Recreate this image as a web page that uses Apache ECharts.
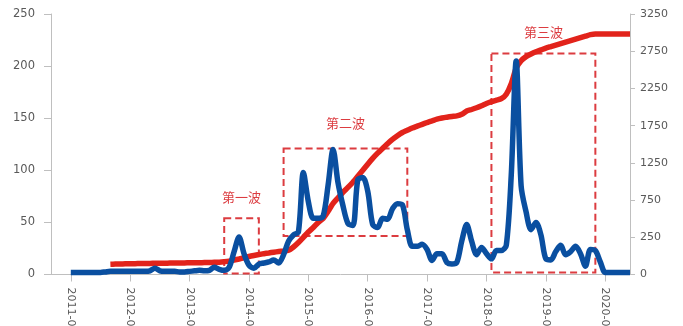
<!DOCTYPE html>
<html>
<head>
<meta charset="utf-8">
<style>
  html, body { margin: 0; padding: 0; background: #ffffff; }
  #chart { width: 683px; height: 326px; }
</style>
<script src="https://cdn.jsdelivr.net/npm/echarts@6/dist/echarts.min.js"></script>
</head>
<body>
<div id="chart"></div>
<script>
// Monthly categories, 2010-09 through 2020-06
const categories = [];
for (let y = 2010; y <= 2020; y++) {
  for (let m = 1; m <= 12; m++) {
    if ((y === 2010 && m < 9) || (y === 2020 && m > 6)) continue;
    categories.push(y + '-' + (m < 10 ? '0' + m : '' + m));
  }
}

// Monthly count (left axis)
const monthlyValues = [
  null, null, null, null,
  2, 2, 2, 2, 2, 2, 2, 2.5,                 // 2011-01 .. 2011-08
  3, 3, 3, 3, 3, 3, 3, 3, 3.5, 6, 3.5, 3,   // 2011-09 .. 2012-08
  3, 3, 2.5, 2.5, 3, 3.5, 4, 3.5, 4, 7, 5, 4, // 2012-09 .. 2013-08
  7, 22, 36, 20, 9, 6, 10, 11, 12, 14, 11, 19, // 2013-09 .. 2014-08
  32, 38, 41, 98, 70, 54, 54, 56, 86, 120, 88, 66, // 2014-09 .. 2015-08
  49, 47, 91, 93, 80, 48, 45, 54, 53, 63, 68, 67, // 2015-09 .. 2016-08
  43, 27, 27, 29, 24, 13.5, 20, 20, 11.5, 10, 11.5, 32, // 2016-09 .. 2017-08
  48, 32, 19, 26, 20, 15, 23, 23, 28, 95, 205, 85, // 2017-09 .. 2018-08
  60, 43, 50, 38, 15, 14, 22, 28, 19, 22, 27, 20, // 2018-09 .. 2019-08
  8, 24, 23, 12, 2, 2, 2, 2, 2, 2            // 2019-09 .. 2020-06
];

// Cumulative total (right axis)
const cumulativeValues = [
  null, null, null, null, null, null, null, null, null, null, null, null,
  138, 140, 141, 143, 144, 146, 147, 148, 149, 150, 151, 152,   // 2011-09 .. 2012-08
  153, 154, 155, 156, 157, 158, 159, 160, 161, 163, 165, 171,   // 2012-09 .. 2013-08
  180, 194, 208, 224, 242, 256, 268, 280, 290, 300, 308, 316,   // 2013-09 .. 2014-08
  326, 370, 430, 500, 570, 632, 700, 755, 850, 955, 1030, 1105, // 2014-09 .. 2015-08
  1170, 1240, 1320, 1400, 1482, 1560, 1630, 1694, 1757, 1815, 1864, 1908, // 2015-09 .. 2016-08
  1938, 1968, 1993, 2018, 2042, 2064, 2087, 2102, 2114, 2124, 2132, 2152, // 2016-09 .. 2017-08
  2197, 2217, 2240, 2267, 2297, 2322, 2342, 2362, 2422, 2562, 2772, 2872, // 2017-09 .. 2018-08
  2927, 2962, 2992, 3017, 3042, 3062, 3082, 3102, 3122, 3142, 3162, 3182, // 2018-09 .. 2019-08
  3202, 3222, 3232, 3232, 3232, 3232, 3232, 3232, 3232, 3232   // 2019-09 .. 2020-06
];

// Right axis tick labels
const rightTickLabels = ['0', '250', '750', '1250', '1750', '2250', '2750', '3250'];

// Highlighted waves: label, start month, end month, low, high on the left axis
const waveNames = ['第一波', '第二波', '第三波'];
const waveStart = ['2013-08', '2014-08', '2018-02'];
const waveEnd = ['2014-03', '2016-09', '2019-11'];
const waveLow = [1, 37, 2];
const waveHigh = [54, 121, 212];
const waveLabelGap = [14, 18, 14];

const axisGray = '#bfbfbf';
const labelGray = '#595959';
const waveRed = '#dc3c40';

const chart = echarts.init(document.getElementById('chart'), null, { renderer: 'canvas' });

const isJanuary = (idx, val) => /-01$/.test(val);

chart.setOption({
  animation: false,
  backgroundColor: '#ffffff',
  grid: {
    left: 51, right: 53, top: 14, bottom: 51.5,
    containLabel: false,
    outerBoundsMode: 'none'
  },
  xAxis: {
    type: 'category',
    data: categories,
    boundaryGap: false,
    axisLine: { lineStyle: { color: axisGray, width: 1 } },
    axisTick: { show: true, interval: isJanuary, length: 7, lineStyle: { color: axisGray } },
    axisLabel: {
      interval: isJanuary,
      rotate: -90,
      margin: 13,
      color: labelGray,
      fontFamily: 'DejaVu Sans',
      fontSize: 11
    },
    splitLine: { show: false }
  },
  yAxis: [
    {
      type: 'value',
      min: 0, max: 250, interval: 50,
      position: 'left',
      axisLine: { show: true, lineStyle: { color: axisGray } },
      axisTick: { show: true, length: 7, lineStyle: { color: axisGray } },
      axisLabel: { margin: 16, color: labelGray, fontFamily: 'DejaVu Sans', fontSize: 11.5 },
      splitLine: { show: false }
    },
    {
      type: 'value',
      min: 0, max: 3500, interval: 500,
      position: 'right',
      axisLine: { show: true, lineStyle: { color: axisGray } },
      axisTick: { show: true, length: 5, lineStyle: { color: axisGray } },
      axisLabel: {
        margin: 10,
        color: labelGray,
        fontFamily: 'DejaVu Sans',
        fontSize: 11,
        formatter: (v) => rightTickLabels[Math.round(v / 500)]
      },
      splitLine: { show: false }
    }
  ],
  series: [
    {
      name: 'cumulative',
      type: 'line',
      yAxisIndex: 1,
      data: cumulativeValues,
      showSymbol: false,
      smooth: 0.2,
      lineStyle: { color: '#e2231b', width: 5.5 },
      z: 2
    },
    {
      name: 'monthly',
      type: 'line',
      yAxisIndex: 0,
      data: monthlyValues,
      showSymbol: false,
      smooth: 0.3,
      lineStyle: { color: '#0a4fa0', width: 5.5 },
      z: 3,
      markArea: {
        silent: true,
        itemStyle: {
          color: 'rgba(0,0,0,0)',
          borderColor: waveRed,
          borderWidth: 2,
          borderType: [7, 4]
        },
        data: waveNames.map((name, k) => [
          {
            name: name,
            xAxis: waveStart[k],
            yAxis: waveHigh[k],
            label: {
              show: true,
              position: 'top',
              distance: waveLabelGap[k],
              color: waveRed,
              fontFamily: 'Noto Sans CJK SC',
              fontSize: 13
            }
          },
          { xAxis: waveEnd[k], yAxis: waveLow[k] }
        ])
      }
    }
  ]
});
</script>
</body>
</html>
